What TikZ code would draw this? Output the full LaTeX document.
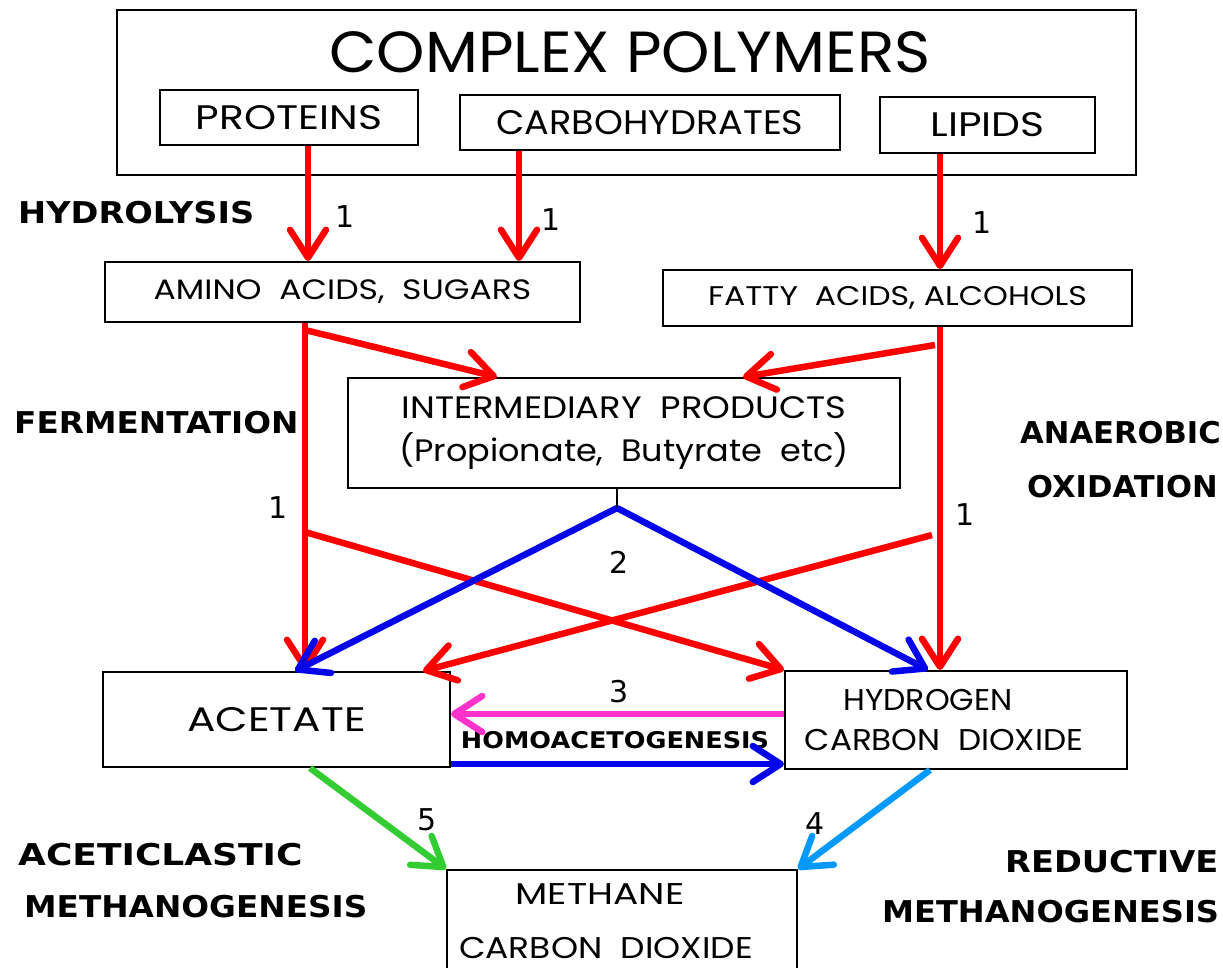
\documentclass[tikz,border=0pt]{standalone}
\usepackage{fontspec}
\setmainfont{Poppins}
\newfontfamily\labfont{DejaVu Sans}
\usetikzlibrary{arrows.meta}
\definecolor{cred}{RGB}{255,0,0}
\definecolor{cblue}{RGB}{5,5,235}
\definecolor{cpink}{RGB}{255,51,204}
\definecolor{cgreen}{RGB}{51,204,51}
\definecolor{csky}{RGB}{0,153,255}
\newcommand\hs[2]{\scalebox{#1}[1]{#2}}
\begin{document}
\begin{tikzpicture}[x=1pt,y=-1pt,
  box/.style={draw, line width=2pt, inner sep=0pt, align=center},
  lbl/.style={font=\labfont\bfseries\fontsize{30}{32}\selectfont, inner sep=0pt, anchor=west},
  num/.style={font=\labfont\fontsize{30}{30}\selectfont, inner sep=0pt},
  flow/.style={line width=6.5pt, -{Straight Barb[length=28pt,width=36pt,round]}},
  thinline/.style={line width=1.5pt, black}
]
\useasboundingbox (0,0) rectangle (1223,967);
\fill[white] (0,0) rectangle (1223,967);

% boxes
\node[box, minimum width=1019pt, minimum height=165pt] (cp) at (626.5,92.5) {};
\node[inner sep=0pt, font=\fontsize{58}{60}\selectfont] (cpt) at (630,52) {\hs{1.06}{COMPLEX POLYMERS}};
\node[box, minimum width=258pt, minimum height=55pt, font=\fontsize{34}{36}\selectfont] (prot) at (289,117.5) {\hs{1.2}{PROTEINS}};
\node[box, minimum width=380pt, minimum height=55pt, font=\fontsize{34}{36}\selectfont] (carb) at (650,122.5) {\hs{1.08}{CARBOHYDRATES}};
\node[box, minimum width=215pt, minimum height=56pt, font=\fontsize{34}{36}\selectfont] (lip) at (987.5,125) {\hs{1.2}{LIPIDS}};
\node[box, minimum width=475pt, minimum height=60pt, font=\fontsize{28}{30}\selectfont] (amino) at (342.5,292) {\hs{1.18}{AMINO\ \ ACIDS,\ \ SUGARS}};
\node[box, minimum width=469pt, minimum height=56pt, font=\fontsize{27}{30}\selectfont] (fatty) at (897.5,298) {\hs{1.17}{FATTY\ \ ACIDS,\ ALCOHOLS}};
\node[box, minimum width=552pt, minimum height=110pt, font=\fontsize{31}{43}\selectfont] (inter) at (624,433) {\hs{1.14}{INTERMEDIARY\ \ PRODUCTS}\\\hs{1.08}{(Propionate,\ \ Butyrate\ \ etc)}};
\node[box, minimum width=347pt, minimum height=95pt, font=\fontsize{34}{36}\selectfont] (acet) at (276.5,719.5) {\hs{1.24}{ACETATE}};
\node[box, minimum width=342pt, minimum height=98pt, font=\fontsize{30}{40}\selectfont] (hyd) at (956,720) {\hspace*{-56pt}\hs{1.05}{HYDROGEN}\\\hspace*{-24pt}\hs{1.09}{CARBON\ \ DIOXIDE}};
\node[box, minimum width=350pt, minimum height=103pt, font=\fontsize{30}{54}\selectfont] (meth) at (622,921.5) {\hspace*{-44pt}\hs{1.25}{METHANE}\\\hspace*{-32pt}\hs{1.15}{CARBON\ \ DIOXIDE}};

% side labels
\node[lbl] (hydro) at (18,213) {\hs{1.12}{HYDROLYSIS}};
\node[lbl] (ferm) at (14,423) {\hs{1.09}{FERMENTATION}};
\node[lbl] (anae) at (1020,433) {\hs{1.02}{ANAEROBIC}};
\node[lbl] (oxid) at (1027,487) {\hs{1.02}{OXIDATION}};
\node[lbl] (acl) at (18,855) {\hs{1.2}{ACETICLASTIC}};
\node[lbl] (am) at (24,907) {\hs{1.09}{METHANOGENESIS}};
\node[lbl] (red) at (1005,862) {\hs{1.12}{REDUCTIVE}};
\node[lbl] (rm) at (882,912) {\hs{1.07}{METHANOGENESIS}};
\node[lbl, anchor=center, font=\labfont\bfseries\fontsize{23}{25}\selectfont] (homo) at (615,740) {\hs{1.11}{HOMOACETOGENESIS}};

% numbers
\node[num] (n1a) at (345,217) {1};
\node[num] (n1b) at (551,220) {1};
\node[num] (n1c) at (982,223) {1};
\node[num] (n1d) at (278,508) {1};
\node[num] (n1e) at (965,515) {1};
\node[num] (n2) at (619,562) {2};
\node[num] (n3) at (619,692) {3};
\node[num] (n5) at (427,820) {5};
\node[num] (n4) at (815,824) {4};

% junction coordinates
\coordinate (xa) at (305,0);
\coordinate (xf) at (940,0);
\coordinate (j1) at (305,330);
\coordinate (j2) at (305,532);
\coordinate (j3) at (935,345);
\coordinate (j4) at (932,535);
\coordinate (j5) at (617,508);

% hydrolysis
\draw[flow, cred] (prot.south -| 308,0) -- (amino.north -| 308,0);
\draw[flow, cred] (carb.south -| 519,0) -- (amino.north -| 519,0);
\draw[flow, cred] (lip.south -| 940,0) -- (fatty.north -| 940,0);

% stem from intermediary
\draw[thinline] (inter.south -| j5) -- (j5);

% fermentation
\draw[flow, cred] (amino.south -| xa) -- (acet.north -| xa);
\draw[flow, cred] (j1) -- (inter.north -| 497,0);
\draw[flow, cred] (j2) -- (hyd.north west);

% anaerobic oxidation
\draw[flow, cred] (fatty.south -| xf) -- (hyd.north -| xf);
\draw[flow, cred] (j3) -- (inter.north -| 743,0);
\draw[flow, cred] (j4) -- (acet.north -| 423,0);

% intermediary products (2)
\draw[flow, cblue] (j5) -- (acet.north -| 295,0);
\draw[flow, cblue] (j5) -- (hyd.north -| 928,0);

% homoacetogenesis (3)
\draw[flow, cpink] (hyd.west |- 0,714) -- (acet.east |- 0,714);
\draw[flow, cblue] (acet.east |- 0,764) -- (hyd.west |- 0,764);

% methanogenesis
\draw[flow, cgreen] (acet.south -| 310,0) -- (meth.north west);
\draw[flow, csky] (hyd.south -| 930,0) -- (meth.north east);
\end{tikzpicture}
\end{document}
